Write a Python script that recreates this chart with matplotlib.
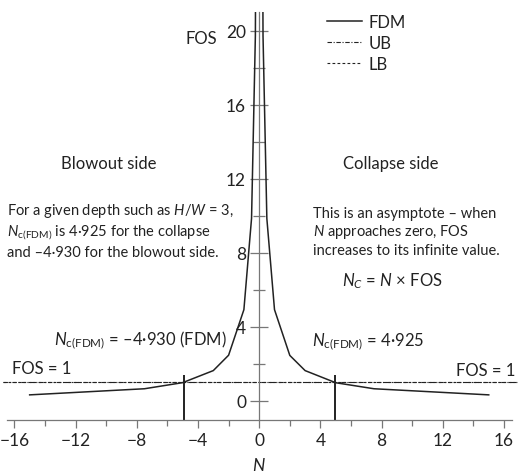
import numpy as np
import matplotlib
matplotlib.use("Agg")
import matplotlib.pyplot as plt
from matplotlib.ticker import MultipleLocator

plt.rcParams['font.family'] = ['Lato', 'DejaVu Sans']
plt.rcParams['mathtext.fontset'] = 'custom'
plt.rcParams['mathtext.rm'] = 'Lato'
plt.rcParams['mathtext.it'] = 'Lato:italic'
plt.rcParams['mathtext.bf'] = 'Lato:bold'

# FDM curve, blowout side (N < 0) and collapse side (N > 0)
N_blow = [-15, -7.5, -5, -3, -2, -1, -0.5, -0.25, -0.1]
FOS_blow = [0.33, 0.66, 0.99, 1.64, 2.47, 4.93, 9.86, 19.72, 49.3]
N_coll = [0.1, 0.25, 0.5, 1, 2, 3, 5, 7.5, 15]
FOS_coll = [49.25, 19.7, 9.85, 4.93, 2.46, 1.64, 0.985, 0.66, 0.33]

# FOS = 1 limit lines
N_ub = [-16.75, 16.9]
FOS_ub = [1, 1]
N_lb = [-16.75, 16.9]
FOS_lb = [1, 1]

# critical N where FOS = 1
Nc = [-4.930, 4.925]
Nc_top = 1.4

fig = plt.figure(figsize=(5.2, 4.77), dpi=100)
ax = fig.add_axes([6.7/520, 1 - 420.5/477, 505/520, (420.5 - 13)/477])

col = '#222222'
ax.plot(N_blow, FOS_blow, color=col, lw=1.1, label='FDM')
ax.plot(N_coll, FOS_coll, color=col, lw=1.1)
ax.plot(N_ub, FOS_ub, color=col, lw=0.8, ls=(0, (4, 1.5, 1, 1.5)), clip_on=False, label='UB')
ax.plot(N_lb, FOS_lb, color=col, lw=0.8, ls=(0, (2.5, 2)), clip_on=False, label='LB')
ax.vlines(Nc, -1, Nc_top, color=col, lw=1.4)

ax.set_xlim(-16.5, 16.5)
ax.set_ylim(-1, 21)

ax.spines['top'].set_visible(False)
ax.spines['right'].set_visible(False)
ax.spines['left'].set_position(('data', 0))
for s in ['left', 'bottom']:
    ax.spines[s].set_color('#777777')
    ax.spines[s].set_linewidth(0.9)

ax.xaxis.set_major_locator(MultipleLocator(4))
ax.xaxis.set_minor_locator(MultipleLocator(2))
ax.yaxis.set_major_locator(MultipleLocator(4))
ax.yaxis.set_minor_locator(MultipleLocator(2))
ax.tick_params(axis='x', which='major', direction='out', length=6, width=0.9, color='#777777',
               labelsize=12.5, labelcolor=col, pad=3)
ax.tick_params(axis='x', which='minor', direction='out', length=4, width=0.9, color='#777777')
ax.tick_params(axis='y', which='major', direction='inout', length=13, width=0.9, color='#777777',
               labelsize=12.5, labelcolor=col, pad=3)
ax.tick_params(axis='y', which='minor', direction='inout', length=8, width=0.9, color='#777777')

ax.set_xlabel('$N$', fontsize=12.5, color=col, labelpad=6)

fs = 10.5
fb = 12
ax.text(-3.81, 19.6, 'FOS', fontsize=fb, color=col, ha='center', va='center')
ax.text(-9.84, 12.6, 'Blowout side', fontsize=fb, color=col, ha='center', va='baseline')
ax.text(8.58, 12.6, 'Collapse side', fontsize=fb, color=col, ha='center', va='baseline')

ax.text(-16.47, 10.11, 'For a given depth such as $H/W$ = 3,', fontsize=fs, color=col, va='baseline')
ax.text(-16.47, 8.97, r'$N_{\mathrm{c(FDM)}}$ is 4·925 for the collapse', fontsize=fs, color=col, va='baseline')
ax.text(-16.47, 7.82, 'and –4·930 for the blowout side.', fontsize=fs, color=col, va='baseline')

ax.text(3.49, 9.93, 'This is an asymptote – when', fontsize=fs, color=col, va='baseline')
ax.text(3.49, 8.94, '$N$ approaches zero, FOS', fontsize=fs, color=col, va='baseline')
ax.text(3.49, 7.95, 'increases to its infinite value.', fontsize=fs, color=col, va='baseline')
ax.text(5.39, 6.23, r'$N_C$ = $N$ × FOS', fontsize=fb, color=col, va='baseline')

ax.text(-2.11, 3.04, r'$N_{\mathrm{c(FDM)}}$ = –4·930 (FDM)', fontsize=fb, color=col, ha='right', va='baseline')
ax.text(3.42, 2.99, r'$N_{\mathrm{c(FDM)}}$ = 4·925', fontsize=fb, color=col, va='baseline')
ax.text(-16.18, 1.51, 'FOS = 1', fontsize=fb, color=col, va='baseline')
ax.text(16.71, 1.41, 'FOS = 1', fontsize=fb, color=col, ha='right', va='baseline')

ax.legend(loc='upper left', bbox_to_anchor=(327/520, 1 - 15/477), bbox_transform=fig.transFigure,
          frameon=False, fontsize=fb, handlelength=2.1, handletextpad=0.4, labelspacing=0.3,
          borderpad=0, borderaxespad=0, labelcolor=col)

fig.savefig('out.png', dpi=100)
